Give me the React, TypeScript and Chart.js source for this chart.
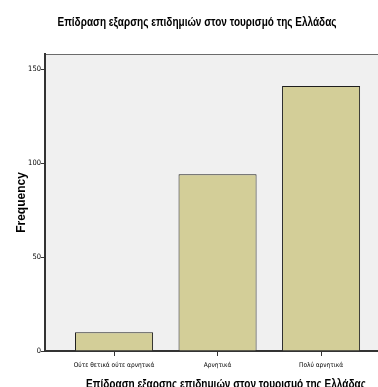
import React, { useEffect, useRef } from "react";
import { Chart, registerables } from "chart.js";

Chart.register(...registerables);

const categories: string[] = ["Ούτε θετικά ούτε αρνητικά", "Αρνητικά", "Πολύ αρνητικά"];
const frequencies: number[] = [10, 94, 141];
const yTickValues: number[] = [0, 50, 100, 150];
const chartTitle = "Επίδραση εξαρσης επιδημιών στον τουρισμό της Ελλάδας";
const xAxisTitle = "Επίδραση εξαρσης επιδημιών στον τουρισμό της Ελλάδας";
const yAxisTitle = "Frequency";

const NARROW = '"Liberation Sans Narrow", "Arial Narrow", "DejaVu Sans Condensed", "Liberation Sans", Arial, sans-serif';
const SANS = '"Liberation Sans", Arial, sans-serif';

const W = 378;
const H = 387;

function drawCondensed(ctx: CanvasRenderingContext2D, text: string, cx: number, baseline: number, targetWidth: number) {
  const w = ctx.measureText(text).width;
  const sx = w > 0 ? Math.min(1, targetWidth / w) : 1;
  ctx.save();
  ctx.translate(cx, baseline);
  ctx.scale(sx, 1);
  ctx.textAlign = "center";
  ctx.textBaseline = "alphabetic";
  ctx.fillText(text, 0, 0);
  ctx.restore();
}

const framePlugin = {
  id: "spssFrame",
  beforeDraw(chart: any) {
    const { ctx, chartArea } = chart;
    ctx.save();
    ctx.fillStyle = "#ffffff";
    ctx.fillRect(0, 0, chart.width, chart.height);
    ctx.fillStyle = "#f0f0f0";
    ctx.fillRect(chartArea.left, chartArea.top, chartArea.right - chartArea.left, chartArea.bottom - chartArea.top);
    ctx.strokeStyle = "#6b6b6b";
    ctx.lineWidth = 1;
    ctx.beginPath();
    ctx.moveTo(chartArea.left, chartArea.top + 0.5);
    ctx.lineTo(chartArea.right, chartArea.top + 0.5);
    ctx.stroke();
    ctx.restore();
  },
  afterDraw(chart: any) {
    const { ctx } = chart;
    ctx.save();
    ctx.fillStyle = "#000000";
    ctx.font = `bold 12px ${SANS}`;
    drawCondensed(ctx, chartTitle, 197, 26, 279);
    drawCondensed(ctx, xAxisTitle, 226, 388, 280);
    ctx.restore();
  },
};

export default function App() {
  const canvasRef = useRef<HTMLCanvasElement | null>(null);

  useEffect(() => {
    document.body.style.margin = "0";
    const canvas = canvasRef.current;
    if (!canvas) return;
    const chart = new Chart(canvas, {
      type: "bar",
      data: {
        datasets: [
          {
            label: yAxisTitle,
            data: frequencies.map((v, i) => ({ x: i, y: v })),
            backgroundColor: "#d3ce98",
            borderColor: "#1e1e1e",
            borderWidth: 1,
            barPercentage: 0.754,
            categoryPercentage: 1,
          },
        ],
      },
      options: {
        responsive: false,
        animation: false,
        devicePixelRatio: 1,
        layout: { padding: { top: 54, left: 0, right: 0, bottom: 0 } },
        plugins: {
          legend: { display: false },
          title: { display: false },
          tooltip: { enabled: false },
        },
        scales: {
          x: {
            type: "linear",
            offset: false,
            min: -0.667,
            max: 2.55,
            afterBuildTicks: (scale: any) => {
              scale.ticks = categories.map((_, i) => ({ value: i }));
            },
            afterFit: (scale: any) => {
              scale.height = 36;
            },
            ticks: {
              callback: (value: any) => categories[Math.round(Number(value))] ?? "",
              font: { family: NARROW, size: 6.5 },
              color: "#000000",
              padding: 5,
              maxRotation: 0,
              autoSkip: false,
            },
            grid: { display: true, offset: false, drawOnChartArea: false, drawTicks: true, tickLength: 5, color: "#333333" },
            border: { display: true, color: "#333333", width: 2 },
          },
          y: {
            type: "linear",
            min: 0,
            max: 158,
            afterBuildTicks: (scale: any) => {
              scale.ticks = yTickValues.map((v) => ({ value: v }));
            },
            afterFit: (scale: any) => {
              scale.width = 45;
            },
            ticks: {
              font: { family: NARROW, size: 7.5 },
              color: "#000000",
              padding: 0,
            },
            grid: { display: true, drawOnChartArea: false, drawTicks: true, tickLength: 4, color: "#333333" },
            border: { display: true, color: "#333333", width: 2 },
            title: {
              display: true,
              text: yAxisTitle,
              font: { family: SANS, size: 12, weight: "bold" },
              color: "#000000",
              padding: { top: 14, bottom: 0 },
            },
          },
        },
      },
      plugins: [framePlugin],
    });
    return () => chart.destroy();
  }, []);

  return (
    <div style={{ width: W, height: H, overflow: "hidden" }}>
      <canvas ref={canvasRef} width={W} height={H} style={{ display: "block", width: W, height: H }} />
    </div>
  );
}
